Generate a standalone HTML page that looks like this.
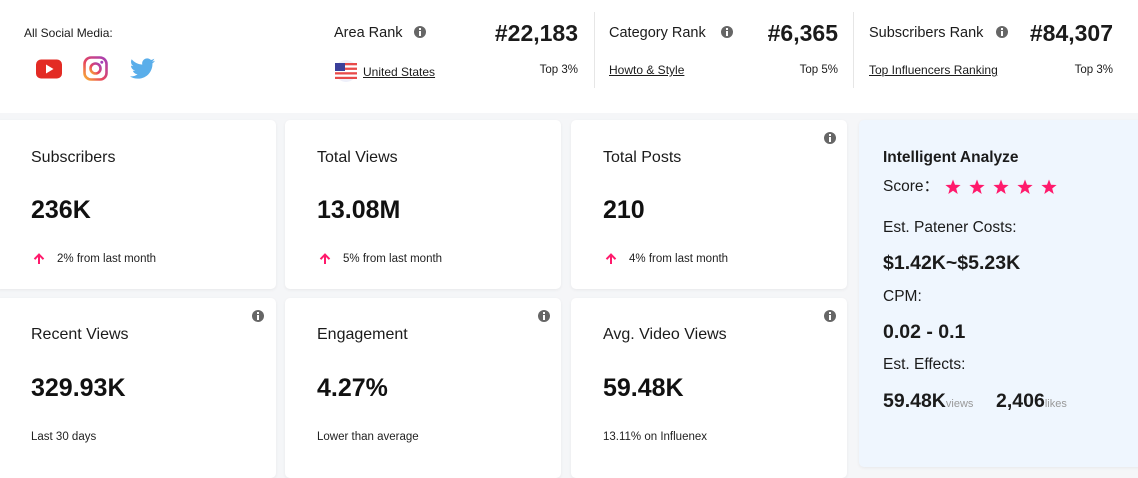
<!DOCTYPE html>
<html><head><meta charset="utf-8"><style>
*{margin:0;padding:0;box-sizing:border-box}
body{width:1138px;height:468px;overflow:hidden;background:#f5f6f8;font-family:"Liberation Sans",sans-serif;color:#1b1b1b;position:relative}
.hdr{position:absolute;left:0;top:0;width:1138px;height:113px;background:#fff}
.t{position:absolute;white-space:nowrap;line-height:20px;height:20px;margin-top:1px}
.card{position:absolute;background:#fff;border-radius:5px;box-shadow:0 1px 3px rgba(0,0,0,0.06)}
.div{position:absolute;top:12px;width:1px;height:76px;background:#e6e6e6}
.info{position:absolute;width:12px;height:12px;border-radius:50%;background:#666}
.info:before{content:"";position:absolute;left:5px;top:2px;width:2px;height:2px;background:#fff}
.info:after{content:"";position:absolute;left:5px;top:5px;width:2px;height:5px;background:#fff}
.lbl{font-size:16px;color:#1b1b1b}
.val{font-size:25px;font-weight:bold;color:#111;line-height:30px;height:30px}
.sub{font-size:11.5px;color:#222}
.rk{font-size:14.5px}
.rv{font-size:23px;font-weight:bold;line-height:28px;height:28px;text-align:right}
.u{font-size:12px;text-decoration:underline}
.top{font-size:11.5px;text-align:right}
.ia{font-size:15.5px}
.ib{font-size:19.5px;font-weight:bold;line-height:24px;height:24px}
.sm{font-size:11px;color:#999;font-weight:normal}
</style></head><body>
<div class="hdr"></div>
<div class="t" style="left:24px;top:22px;font-size:12px">All Social Media:</div>
<svg style="position:absolute;left:36px;top:59px" width="26" height="20" viewBox="0 0 26 20"><rect x="0" y="0.5" width="26" height="19" rx="5" fill="#e32b24"/><polygon points="10,5.5 10,14.5 17.5,10" fill="#fff"/></svg>
<svg style="position:absolute;left:83px;top:56px" width="25" height="25" viewBox="0 0 25 25"><defs><linearGradient id="ig" x1="0" y1="1" x2="1" y2="0"><stop offset="0" stop-color="#f9b233"/><stop offset="0.4" stop-color="#e8465d"/><stop offset="1" stop-color="#a43fb8"/></linearGradient></defs><rect x="1.5" y="1.5" width="22" height="22" rx="6.5" fill="none" stroke="url(#ig)" stroke-width="2.6"/><circle cx="12.5" cy="12.5" r="5" fill="none" stroke="url(#ig)" stroke-width="2.6"/><circle cx="18.8" cy="6.2" r="1.5" fill="#a43fb8"/></svg>
<svg style="position:absolute;left:130px;top:56px" width="25" height="25" viewBox="0 0 24 24"><path fill="#5aaeea" d="M23.954 4.569c-.885.389-1.83.654-2.825.775 1.014-.611 1.794-1.574 2.163-2.723-.951.555-2.005.959-3.127 1.184-.896-.959-2.173-1.559-3.591-1.559-2.717 0-4.92 2.203-4.92 4.917 0 .39.045.765.127 1.124C7.691 8.094 4.066 6.13 1.64 3.161c-.427.722-.666 1.561-.666 2.475 0 1.71.87 3.213 2.188 4.096-.807-.026-1.566-.248-2.228-.616v.061c0 2.385 1.693 4.374 3.946 4.827-.413.111-.849.171-1.296.171-.314 0-.615-.03-.916-.086.631 1.953 2.445 3.377 4.604 3.417-1.680 1.319-3.809 2.105-6.102 2.105-.39 0-.779-.023-1.17-.067 2.189 1.394 4.768 2.209 7.557 2.209 9.054 0 13.999-7.496 13.999-13.986 0-.209 0-.42-.015-.63.961-.689 1.8-1.56 2.46-2.548l-.047-.02z"/></svg>

<!-- Area rank -->
<div class="t rk" style="left:334px;top:22px">Area Rank</div>
<div class="info" style="left:414px;top:26px"></div>
<div class="t rv" style="left:450px;top:18px;width:128px">#22,183</div>
<svg style="position:absolute;left:333px;top:60px" width="26" height="22" viewBox="0 0 26 22"><circle cx="13" cy="11" r="11" fill="#eef0fa"/><g transform="translate(2,3)"><rect width="22" height="16" rx="3" fill="#fff"/><rect y="0" width="22" height="2.3" fill="#e84a4a"/><rect y="4.6" width="22" height="2.3" fill="#e84a4a"/><rect y="9.2" width="22" height="2.3" fill="#e84a4a"/><rect y="13.8" width="22" height="2.2" fill="#e84a4a"/><rect width="10" height="8" fill="#3a3f9a"/></g></svg>
<div class="t u" style="left:363px;top:61px">United States</div>
<div class="t top" style="left:500px;top:59px;width:78px">Top 3%</div>
<div class="div" style="left:594px"></div>

<!-- Category rank -->
<div class="t rk" style="left:609px;top:22px">Category Rank</div>
<div class="info" style="left:721px;top:26px"></div>
<div class="t rv" style="left:720px;top:18px;width:118px">#6,365</div>
<div class="t u" style="left:609px;top:59px">Howto &amp; Style</div>
<div class="t top" style="left:760px;top:59px;width:78px">Top 5%</div>
<div class="div" style="left:853px"></div>

<!-- Subscribers rank -->
<div class="t rk" style="left:869px;top:22px">Subscribers Rank</div>
<div class="info" style="left:996px;top:26px"></div>
<div class="t rv" style="left:1000px;top:18px;width:113px">#84,307</div>
<div class="t u" style="left:869px;top:59px">Top Influencers Ranking</div>
<div class="t top" style="left:1035px;top:59px;width:78px">Top 3%</div>

<!-- Row 1 -->
<div class="card" style="left:-5px;top:120px;width:281px;height:169px"></div>
<div class="card" style="left:285px;top:120px;width:276px;height:169px"></div>
<div class="card" style="left:571px;top:120px;width:276px;height:169px"></div>
<!-- Row 2 -->
<div class="card" style="left:-5px;top:298px;width:281px;height:180px"></div>
<div class="card" style="left:285px;top:298px;width:276px;height:180px"></div>
<div class="card" style="left:571px;top:298px;width:276px;height:180px"></div>
<!-- Card 4 -->
<div class="card" style="left:859px;top:120px;width:290px;height:347px;background:#eff6fe"></div>

<div class="t lbl" style="left:31px;top:147px">Subscribers</div>
<div class="t val" style="left:31px;top:194px">236K</div>
<svg style="position:absolute;left:33px;top:253px" width="12" height="12" viewBox="0 0 12 12"><path d="M6 11V2M1.5 6.2L6 1.6 10.5 6.2" fill="none" stroke="#ff1a6c" stroke-width="2"/></svg>
<div class="t sub" style="left:57px;top:248px">2% from last month</div>

<div class="t lbl" style="left:317px;top:147px">Total Views</div>
<div class="t val" style="left:317px;top:194px">13.08M</div>
<svg style="position:absolute;left:319px;top:253px" width="12" height="12" viewBox="0 0 12 12"><path d="M6 11V2M1.5 6.2L6 1.6 10.5 6.2" fill="none" stroke="#ff1a6c" stroke-width="2"/></svg>
<div class="t sub" style="left:343px;top:248px">5% from last month</div>

<div class="info" style="left:824px;top:132px"></div>
<div class="t lbl" style="left:603px;top:147px">Total Posts</div>
<div class="t val" style="left:603px;top:194px">210</div>
<svg style="position:absolute;left:605px;top:253px" width="12" height="12" viewBox="0 0 12 12"><path d="M6 11V2M1.5 6.2L6 1.6 10.5 6.2" fill="none" stroke="#ff1a6c" stroke-width="2"/></svg>
<div class="t sub" style="left:629px;top:248px">4% from last month</div>

<div class="info" style="left:252px;top:310px"></div>
<div class="t lbl" style="left:31px;top:324px">Recent Views</div>
<div class="t val" style="left:31px;top:372px">329.93K</div>
<div class="t sub" style="left:31px;top:426px">Last 30 days</div>

<div class="info" style="left:538px;top:310px"></div>
<div class="t lbl" style="left:317px;top:324px">Engagement</div>
<div class="t val" style="left:317px;top:372px">4.27%</div>
<div class="t sub" style="left:317px;top:426px">Lower than average</div>

<div class="info" style="left:824px;top:310px"></div>
<div class="t lbl" style="left:603px;top:324px">Avg. Video Views</div>
<div class="t val" style="left:603px;top:372px">59.48K</div>
<div class="t sub" style="left:603px;top:426px">13.11% on Influenex</div>

<!-- Intelligent analyze -->
<div class="t" style="left:883px;top:147px;font-size:15.5px;font-weight:bold">Intelligent Analyze</div>
<div class="t ia" style="left:883px;top:176px">Score：</div>
<svg style="position:absolute;left:945px;top:179px" width="114" height="16" viewBox="0 0 114 16">
<g fill="#ff1a6c">
<polygon id="s" points="8,0.5 10,5.8 15.6,6 11.2,9.5 12.7,15 8,11.8 3.3,15 4.8,9.5 0.4,6 6,5.8"/>
<use href="#s" x="24"/><use href="#s" x="48"/><use href="#s" x="72"/><use href="#s" x="96"/>
</g></svg>
<div class="t ia" style="left:883px;top:217px">Est. Patener Costs:</div>
<div class="t ib" style="left:883px;top:250px">$1.42K~$5.23K</div>
<div class="t ia" style="left:883px;top:286px">CPM:</div>
<div class="t ib" style="left:883px;top:319px">0.02 - 0.1</div>
<div class="t ia" style="left:883px;top:354px">Est. Effects:</div>
<div class="t ib" style="left:883px;top:388px">59.48K<span class="sm">views</span></div>
<div class="t ib" style="left:996px;top:388px">2,406<span class="sm">likes</span></div>
</body></html>
